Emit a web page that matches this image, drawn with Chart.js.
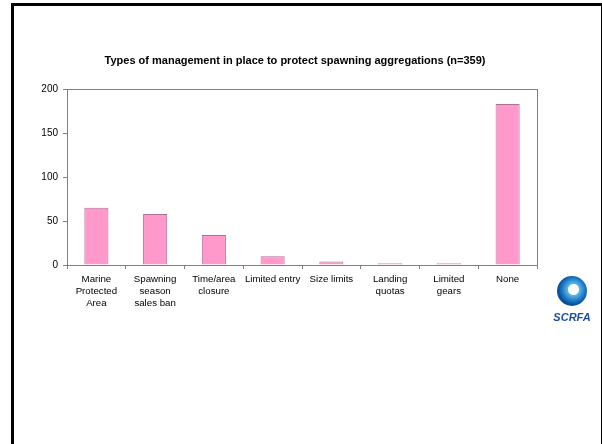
<!DOCTYPE html>
<html>
<head>
<meta charset="utf-8">
<script src="https://cdn.jsdelivr.net/npm/chart.js@4/dist/chart.umd.min.js"></script>
<style>
    body { margin: 0; background: #fff; }
    #marco { position: absolute; left: 11px; top: 3px; width: 587px; height: 460px;
             border: 3px solid #000; border-bottom: none; }
    #grafico { position: absolute; left: 0; top: 0; }
    #logo { position: absolute; left: 550px; top: 276px; width: 44px; text-align: center; }
    #logo .circulo { width: 30px; height: 30px; margin: 0 auto; border-radius: 50%;
                     background: radial-gradient(circle at 55% 45%, #fff 0 5px, #5fb4e6 6px, #1d7fc8 11px, #0d4f9a 15px); }
    #logo .texto { font: italic bold 11px Arial, "Liberation Sans", sans-serif; color: #1c4e9c; margin-top: 5px; }
</style>
</head>
<body>
<div id="marco"></div>
<canvas id="grafico" width="602" height="444"></canvas>
<div id="logo"><div class="circulo"></div><div class="texto">SCRFA</div></div>
<script>
const titulo = 'Types of management in place to protect spawning aggregations (n=359)';
const categorias = [
    ['Marine', 'Protected', 'Area'],
    ['Spawning', 'season', 'sales ban'],
    ['Time/area', 'closure'],
    ['Limited entry'],
    ['Size limits'],
    ['Landing', 'quotas'],
    ['Limited', 'gears'],
    ['None']
];
const valores = [65, 58, 34, 10, 4, 2, 2, 183];
const ticksY = [0, 50, 100, 150, 200];

// marco gris del area de trazado + titulo
const marcoPlot = {
    id: 'marcoPlot',
    afterDraw(chart) {
        const { ctx, chartArea } = chart;
        ctx.save();
        ctx.strokeStyle = '#808080';
        ctx.lineWidth = 1;
        ctx.strokeRect(chartArea.left + 0.5, chartArea.top + 0.5, chartArea.width, chartArea.height);
        ctx.fillStyle = '#000';
        ctx.font = 'bold 11px Arial, "Liberation Sans", sans-serif';
        ctx.textAlign = 'center';
        ctx.textBaseline = 'middle';
        ctx.fillText(titulo, 295, 61);
        ctx.restore();
    }
};

const ctx = document.getElementById('grafico').getContext('2d');
new Chart(ctx, {
    type: 'bar',
    data: {
        labels: categorias,
        datasets: [{
            data: valores,
            backgroundColor: '#ff99cc',
            borderColor: '#b07096',
            borderWidth: 1,
            barPercentage: 0.41,
            categoryPercentage: 1
        }]
    },
    options: {
        responsive: false,
        animation: false,
        layout: { padding: { left: 20, top: 89, right: 65, bottom: 124 } },
        plugins: { legend: { display: false }, tooltip: { enabled: false }, title: { display: false } },
        scales: {
            x: {
                afterFit: (s) => { s.height = 55; },
                grid: { display: true, drawOnChartArea: false, drawTicks: true, tickLength: 4, color: '#808080', offset: true },
                border: { display: true, color: '#808080' },
                ticks: { color: '#000', maxRotation: 0, autoSkip: false, padding: 4,
                         font: { family: 'Arial, "Liberation Sans", sans-serif', size: 9.7, lineHeight: 1.25 } }
            },
            y: {
                min: 0, max: 200,
                afterFit: (s) => { s.width = 47; },
                afterBuildTicks: (s) => { s.ticks = ticksY.map(v => ({ value: v })); },
                grid: { display: true, drawOnChartArea: false, drawTicks: true, tickLength: 4, color: '#808080' },
                border: { display: true, color: '#808080' },
                ticks: { color: '#000', padding: 5,
                         font: { family: 'Arial, "Liberation Sans", sans-serif', size: 10 } }
            }
        }
    },
    plugins: [marcoPlot]
});
</script>
</body>
</html>
